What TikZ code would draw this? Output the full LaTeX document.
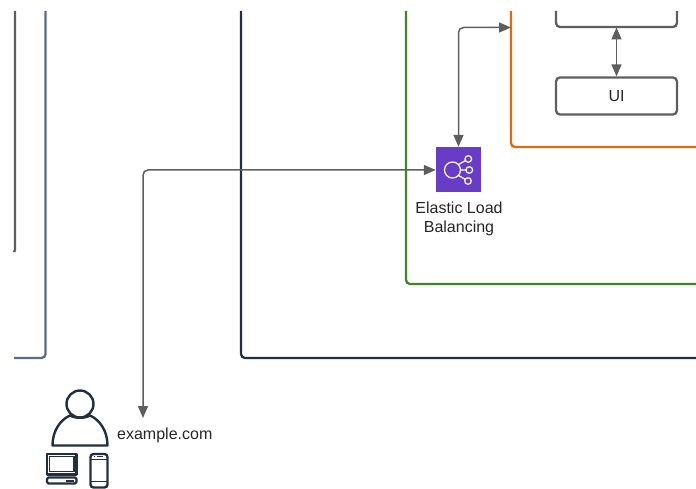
\documentclass[tikz,border=0pt]{standalone}
\usepackage{fontspec}
\setmainfont{Liberation Sans}
\usetikzlibrary{arrows.meta}
\definecolor{linegrey}{HTML}{5E5E5E}
\definecolor{navy}{HTML}{232F3E}
\definecolor{bluegrey}{HTML}{5A6B86}
\definecolor{greenf}{HTML}{3F8624}
\definecolor{orangef}{HTML}{DD6B10}
\definecolor{elbpurple}{HTML}{693CC5}
\tikzset{
  frame/.style={line width=2.3pt,rounded corners=4pt},
  conn/.style={draw=linegrey,line width=1.5pt,rounded corners=5pt,{Triangle[length=12pt,width=10pt]}-{Triangle[length=12pt,width=10pt]}},
  appbox/.style={draw=linegrey,line width=2.3pt,rounded corners=4pt},
  lbl/.style={font=\fontsize{16}{20}\selectfont,text=black!85,inner sep=0pt,align=center},
  ico/.style={draw=navy,line width=2.4pt,line join=round},
  elbline/.style={draw=white,line width=1.2pt},
}
\begin{document}
\begin{tikzpicture}[x=1pt,y=-1pt]
\useasboundingbox (0,0) rectangle (696,489);
% frames
\coordinate (gt) at (15,11); \coordinate (gb) at (15,250); \coordinate (gc) at (14,252);
\draw[draw=linegrey,line width=2.3pt] (gt) -- (gb) -- (gc);
\coordinate (bt) at (45.5,11); \coordinate (bc) at (45.5,358); \coordinate (be) at (14,358);
\draw[frame,draw=bluegrey] (bt) -- (bc) -- (be);
\coordinate (nt) at (241,11); \coordinate (nc) at (241,358); \coordinate (ne) at (696,358);
\draw[frame,draw=navy] (nt) -- (nc) -- (ne);
\coordinate (grt) at (406,11); \coordinate (grc) at (406,284); \coordinate (gre) at (696,284);
\draw[frame,draw=greenf] (grt) -- (grc) -- (gre);
\coordinate (ot) at (511,11); \coordinate (oc) at (511,147); \coordinate (oe) at (696,147);
\draw[frame,draw=orangef] (ot) -- (oc) -- (oe);
% app boxes
\coordinate (tl) at (556,11); \coordinate (bl) at (556,27); \coordinate (br) at (677,27); \coordinate (tr) at (677,11);
\draw[appbox] (tl) -- (bl) -- (br) -- (tr);
\node[appbox,minimum width=121pt,minimum height=37pt,inner sep=0pt,lbl] (ui) at (616.5,96) {UI};
% ELB
\node[fill=elbpurple,minimum size=45pt,inner sep=0pt] (elb) at (458.5,169.5) {};
\node[lbl,anchor=north] (elbl) at (459,198) {\rule{0pt}{15pt}Elastic Load\\[-1pt]Balancing};
\draw[elbline] (452.5,170) circle (8);
\draw[elbline] (468.3,159) circle (3.3) (469.3,170) circle (3.3) (468,181) circle (3.3);
\draw[elbline] (460.5,170) -- (466,170) (458.5,164.5) -- (465.5,160.5) (458.5,175.5) -- (465.5,179.5);
% connectors
\coordinate (otarget) at (511,27.5);
\coordinate (apptop) at (616.5,27.5);
\coordinate (user) at (143,418);
\draw[conn] (elb.north) |- (otarget);
\draw[conn] (apptop) -- (ui.north);
\draw[conn] (elb.west) ++(0,0.5) -| (user);
% user
\node[lbl,anchor=west] (ex) at (117,435) {example.com};
\draw[ico] (80,404) circle (13.5);
\draw[ico] (52.5,445.5) .. controls (52.5,431) and (60,420) .. (70,415.5)
  .. controls (75,418.5) and (85,418.5) .. (90,415.5)
  .. controls (100,420) and (107.5,431) .. (107.5,445.5) -- cycle;
% laptop
\draw[ico] (47,454) rectangle (76.5,474.5);
\draw[navy,line width=1.2pt] (49.5,456.5) rectangle (74,471.5);
\draw[ico,rounded corners=1.5pt] (47,477.5) rectangle (76.5,483.5);
\draw[navy,line width=2pt] (66,480.5) -- (74,480.5);
% phone
\draw[ico,rounded corners=3pt] (90.5,454) rectangle (107.5,487.5);
\draw[navy,line width=1.2pt] (90.5,459.5) -- (107.5,459.5) (90.5,481.5) -- (107.5,481.5);
\draw[navy,line width=1.5pt] (97,456.7) -- (103,456.7) (94,456.7) -- (95,456.7);
\end{tikzpicture}
\end{document}
